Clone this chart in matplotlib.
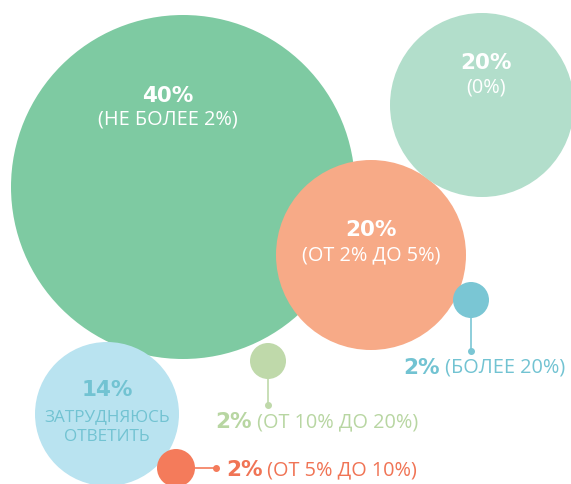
import matplotlib
matplotlib.use("Agg")
import matplotlib.pyplot as plt
from matplotlib.patches import Circle

# bubble data (pixel coordinates of the source layout)
shares = ["40%", "20%", "20%", "14%", "2%", "2%", "2%"]
captions = ["(НЕ БОЛЕЕ 2%)", "(ОТ 2% ДО 5%)", "(0%)", "ЗАТРУДНЯЮСЬ\nОТВЕТИТЬ",
            "(БОЛЕЕ 20%)", "(ОТ 10% ДО 20%)", "(ОТ 5% ДО 10%)"]
centers_x = [183, 371, 482, 107, 471, 268, 176]
centers_y = [187, 255, 105, 414, 300, 361, 468]
radii = [172, 95, 92, 72, 18, 18, 19]
colors = ["#7ECAA2", "#F7AA87", "#B2DECB", "#B9E3F0", "#7AC6D4", "#BFD9AA", "#F47B5B"]
text_colors = ["white", "white", "white", "#72C3D2", "#72C3D2", "#B8D6A2", "#F07455"]

FONT = ["Open Sans", "DejaVu Sans"]


def bold_text(x, y, s, color, ha):
    return ax.text(x, y, s, color=color, fontsize=15.5, fontweight="bold",
                   family="DejaVu Sans", ha=ha, va="center")


fig = plt.figure(figsize=(5.71, 4.84), dpi=100)
ax = fig.add_axes([0, 0, 1, 1])
ax.set_xlim(0, 571)
ax.set_ylim(484, 0)
ax.set_aspect("equal")
ax.axis("off")

for i in range(len(shares)):
    ax.add_patch(Circle((centers_x[i], centers_y[i]), radii[i], color=colors[i], lw=0))

# labels inside big bubbles
inside = [(0, 168, 96, 120), (1, 371, 230, 255), (2, 486, 63, 88)]
for i, x, y1, y2 in inside:
    bold_text(x, y1, shares[i], text_colors[i], "center")
    ax.text(x, y2, captions[i], color=text_colors[i], fontsize=14.3,
            family=FONT, ha="center", va="center")

# "затрудняюсь ответить"
bold_text(107, 390, shares[3], text_colors[3], "center")
ax.text(107, 427, captions[3], color=text_colors[3], fontsize=12.3, linespacing=1.35,
        family=FONT, ha="center", va="center")

# small bubbles with leader lines
ax.plot([471, 471], [318, 351], color=colors[4], lw=1.2)
ax.plot(471, 351, "o", color=colors[4], ms=4)
ax.plot([268, 268], [379, 405], color=colors[5], lw=1.2)
ax.plot(268, 405, "o", color=colors[5], ms=4)
ax.plot([195, 216], [468, 468], color=colors[6], lw=1.2)
ax.plot(216, 468, "o", color=colors[6], ms=4)

small = [(4, 403, 368), (5, 215, 422), (6, 226, 470)]
for i, x, y in small:
    t = bold_text(x, y, shares[i], text_colors[i], "left")
    ax.annotate(" " + captions[i], xycoords=t, xy=(1, 0.5), va="center", ha="left",
                color=text_colors[i], fontsize=14.3, family=FONT)

fig.savefig("out.png", dpi=100)
